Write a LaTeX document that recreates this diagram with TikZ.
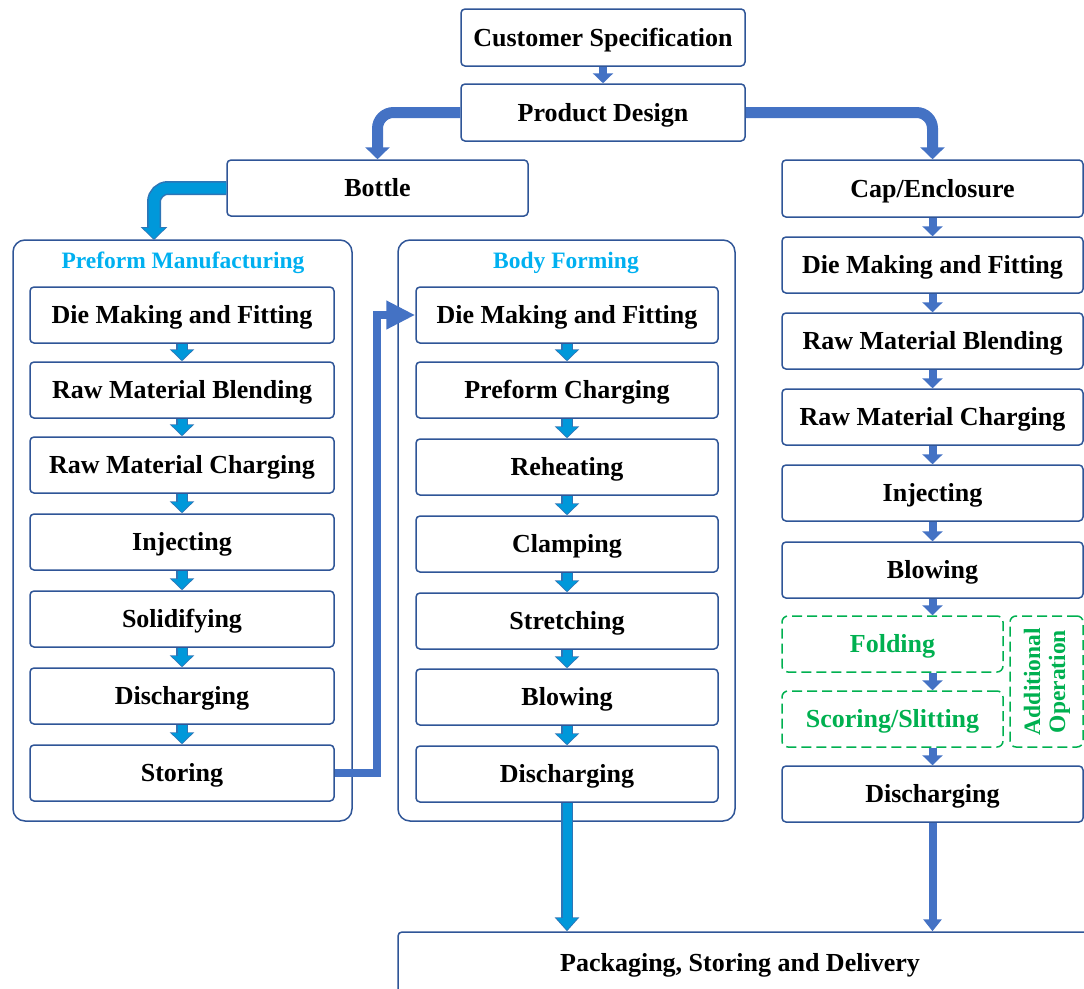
\documentclass[tikz,border=0pt]{standalone}
\usepackage{fontspec}
\setmainfont{Liberation Serif}
\usetikzlibrary{arrows.meta}
\definecolor{boxblue}{HTML}{2F5597}
\definecolor{midblue}{HTML}{4472C4}
\definecolor{lblue}{HTML}{0098DA}
\definecolor{lbline}{HTML}{2E75B6}
\definecolor{titleblue}{HTML}{00B0F0}
\definecolor{opgreen}{HTML}{00B050}
\begin{document}
\begin{tikzpicture}[x=1pt,y=-1pt,
  box/.style={draw=boxblue, line width=1.5pt, rounded corners=4pt, fill=white, inner sep=0pt,
    text height=18pt, text depth=0.5pt,
    font=\bfseries\fontsize{26}{28}\selectfont},
  lbox/.style={box, minimum width=304pt, minimum height=56pt},
  mbox/.style={box, minimum width=302pt, minimum height=56pt},
  rbox/.style={box, minimum width=301pt, minimum height=56pt},
  cont/.style={draw=boxblue, line width=1.5pt, rounded corners=12pt, inner sep=0pt},
  ctitle/.style={text=titleblue, font=\bfseries\fontsize{23.5}{25}\selectfont, inner sep=0pt, anchor=base},
  gbox/.style={draw=opgreen, line width=1.5pt, dash pattern=on 10pt off 5pt, rounded corners=6pt,
    inner sep=0pt, text=opgreen, text height=18pt, text depth=0.5pt,
    font=\bfseries\fontsize{26}{28}\selectfont},
  lout/.style={line width=12pt, draw=lbline, -{Triangle[width=24pt,length=12pt]}},
  lin/.style={line width=9pt, draw=lblue, -{Triangle[width=20pt,length=10pt]}, shorten >=1.2pt},
  rarr/.style={line width=8pt, draw=midblue, -{Triangle[width=20pt,length=10pt]}},
  bigm/.style={line width=11pt, draw=midblue, rounded corners=16pt, -{Triangle[width=24pt,length=12pt]}},
]
\useasboundingbox (0,0) rectangle (1084,988);

% containers
\node[cont, minimum width=339pt, minimum height=581pt] (pf) at (182.5,530.5) {};
\node[cont, minimum width=337pt, minimum height=581pt] (bf) at (566.5,530.5) {};
\node[ctitle] (pft) at (183,268) {Preform Manufacturing};
\node[ctitle] (bft) at (566,268) {Body Forming};

% top
\node[box, minimum width=284pt, minimum height=57pt] (cs) at (603,37.5) {Customer Specification};
\node[box, minimum width=284pt, minimum height=57pt] (pd) at (603,112.5) {Product Design};
\node[box, minimum width=301pt, minimum height=56pt] (bot) at (377.5,188) {Bottle};
\node[rbox, minimum height=57pt] (cap) at (932.5,188.5) {Cap/Enclosure};

% left column
\node[lbox] (l1) at (182,315) {Die Making and Fitting};
\node[lbox] (l2) at (182,390) {Raw Material Blending};
\node[lbox] (l3) at (182,465) {Raw Material Charging};
\node[lbox] (l4) at (182,542) {Injecting};
\node[lbox] (l5) at (182,619) {Solidifying};
\node[lbox] (l6) at (182,696) {Discharging};
\node[lbox] (l7) at (182,773) {Storing};

% middle column
\node[mbox] (m1) at (567,315) {Die Making and Fitting};
\node[mbox] (m2) at (567,390) {Preform Charging};
\node[mbox] (m3) at (567,467) {Reheating};
\node[mbox] (m4) at (567,544) {Clamping};
\node[mbox] (m5) at (567,621) {Stretching};
\node[mbox] (m6) at (567,697) {Blowing};
\node[mbox] (m7) at (567,774) {Discharging};

% right column
\node[rbox] (r1) at (932.5,265) {Die Making and Fitting};
\node[rbox] (r2) at (932.5,341) {Raw Material Blending};
\node[rbox] (r3) at (932.5,417) {Raw Material Charging};
\node[rbox] (r4) at (932.5,493) {Injecting};
\node[rbox] (r5) at (932.5,570) {Blowing};
\node[gbox, minimum width=221pt, minimum height=56pt] (fo) at (892.5,644) {Folding};
\node[gbox, minimum width=221pt, minimum height=56pt] (sc) at (892.5,719) {Scoring/Slitting};
\node[gbox, minimum width=73pt, minimum height=131pt] (ao) at (1046.5,681.5) {};
\node[text=opgreen, rotate=90, align=center, inner sep=0pt,
  font=\bfseries\fontsize{23.5}{25}\selectfont] (aot) at (1047,681.5) {Additional\\Operation};
\node[rbox] (r6) at (932.5,794) {Discharging};

% bottom
\node[box, minimum width=694pt, minimum height=64pt] (pk) at (745,964) {};
\node[inner sep=0pt, anchor=base, font=\bfseries\fontsize{26}{28}\selectfont] (pkt) at (740,971) {Packaging, Storing and Delivery};

% arrows top
\draw[rarr] (cs.south) -- (pd.north);
\draw[bigm] (pd.west) -| (bot.north);
\draw[bigm] (pd.east) -| (cap.north);

% bottle to preform
\coordinate (pfin) at (154,240);
\draw[line width=14pt, draw=lbline, rounded corners=14pt, -{Triangle[width=26pt,length=13pt]}] (bot.west) -| (pfin);
\draw[line width=11pt, draw=lblue, rounded corners=14pt, -{Triangle[width=22pt,length=11pt]}, shorten >=1.2pt] (bot.west) -| (pfin);

% left small arrows
\foreach \a/\b in {l1/l2,l2/l3,l3/l4,l4/l5,l5/l6,l6/l7,m1/m2,m2/m3,m3/m4,m4/m5,m5/m6,m6/m7}{
  \draw[lout] (\a.south) -- (\b.north);
  \draw[lin] (\a.south) -- (\b.north);
}

% storing to body forming
\draw[line width=8pt, draw=midblue, -{Triangle[width=27pt,length=29pt]}] (l7.east) -- ++(42,0) |- (m1.west);

% right small arrows
\foreach \a/\b in {cap/r1,r1/r2,r2/r3,r3/r4,r4/r5}{
  \draw[rarr] (\a.south) -- (\b.north);
}
\draw[rarr] (r5.south) -- (r5.south |- fo.north);
\draw[rarr] (r5.south |- fo.south) -- (r5.south |- sc.north);
\draw[rarr] (r5.south |- sc.south) -- (r6.north);

% bottom arrows
\draw[line width=12pt, draw=lbline, -{Triangle[width=24pt,length=14pt]}] (m7.south) -- (m7.south |- pk.north);
\draw[line width=9pt, draw=lblue, -{Triangle[width=20pt,length=12pt]}, shorten >=1.2pt] (m7.south) -- (m7.south |- pk.north);
\draw[line width=8pt, draw=midblue, -{Triangle[width=18pt,length=12pt]}] (r6.south) -- (r6.south |- pk.north);
\end{tikzpicture}
\end{document}
